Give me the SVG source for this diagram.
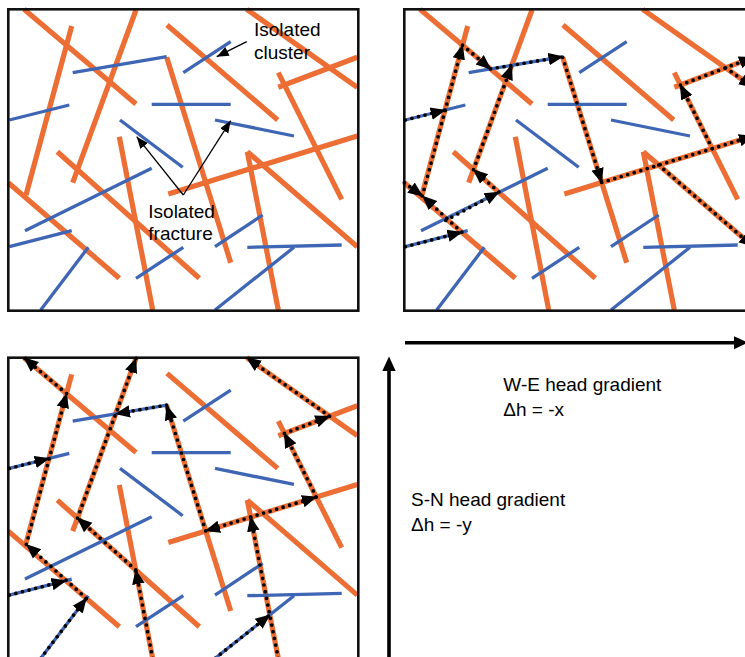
<svg xmlns="http://www.w3.org/2000/svg" xmlns:xlink="http://www.w3.org/1999/xlink" width="745" height="657" viewBox="0 0 745 657">
<style>
.o{stroke:#EC6E34;stroke-width:5.2;fill:none}
.b{stroke:#3F66B4;stroke-width:3.3;fill:none}
.frame{fill:none;stroke:#111;stroke-width:2.6}
.dot{stroke:#000;stroke-width:3.7;stroke-dasharray:0 6.8;stroke-linecap:round;fill:none;marker-end:url(#ah)}
.ann{stroke:#000;stroke-width:1.3;fill:none;marker-end:url(#ah2)}
.t{font-family:"Liberation Sans",Arial,sans-serif;font-size:19px;fill:#000}
</style>
<defs>
<marker id="ah" markerUnits="userSpaceOnUse" viewBox="0 0 10 10" markerWidth="15" markerHeight="15" refX="9.5" refY="5" orient="auto">
<path d="M0,0.8 L10,5 L0,9.2 z" fill="#000"/>
</marker>
<marker id="ah2" markerUnits="userSpaceOnUse" viewBox="0 0 10 10" markerWidth="12" markerHeight="12" refX="10" refY="5" orient="auto">
<path d="M0,1 L10,5 L0,9 z" fill="#000"/>
</marker>
<g id="fractures">
<line class="o" x1="24" y1="9.3" x2="136" y2="104"/>
<line class="o" x1="71.7" y1="26" x2="26" y2="195"/>
<line class="o" x1="136" y1="10" x2="72.7" y2="182.7"/>
<line class="o" x1="167" y1="25" x2="277.7" y2="120"/>
<line class="o" x1="246.7" y1="9.3" x2="357.3" y2="87.3"/>
<line class="o" x1="278.3" y1="87.3" x2="357.3" y2="57.3"/>
<line class="o" x1="278.3" y1="72.7" x2="341.7" y2="199.3"/>
<line class="o" x1="166.7" y1="57.3" x2="230.7" y2="262.7"/>
<line class="o" x1="119.3" y1="136.7" x2="152.7" y2="310"/>
<line class="o" x1="57.3" y1="151.7" x2="199.3" y2="278.3"/>
<line class="o" x1="8.3" y1="182.7" x2="119.3" y2="278.3"/>
<line class="o" x1="168.3" y1="194" x2="357.3" y2="136"/>
<line class="o" x1="247.3" y1="151.7" x2="278.3" y2="310"/>
<line class="o" x1="247.3" y1="151.7" x2="357.3" y2="246.7"/>
<line class="b" x1="72.7" y1="72.7" x2="166.7" y2="56.7"/>
<line class="b" x1="183.3" y1="72.7" x2="230.7" y2="41.7"/>
<line class="b" x1="9.3" y1="120" x2="69.3" y2="105"/>
<line class="b" x1="151.7" y1="104.3" x2="230.7" y2="104.3"/>
<line class="b" x1="120" y1="120" x2="182.7" y2="167.3"/>
<line class="b" x1="215" y1="120" x2="294" y2="136"/>
<line class="b" x1="25" y1="230.7" x2="151.7" y2="168.3"/>
<line class="b" x1="9.3" y1="246.7" x2="71.7" y2="230.7"/>
<line class="b" x1="40.7" y1="310" x2="88.3" y2="247.3"/>
<line class="b" x1="136" y1="278.3" x2="183.3" y2="247.3"/>
<line class="b" x1="215" y1="246.7" x2="262.7" y2="215"/>
<line class="b" x1="247.3" y1="247.3" x2="341.7" y2="245"/>
<line class="b" x1="215" y1="310" x2="294" y2="247.3"/>
</g>
</defs>
<rect width="745" height="657" fill="#fff"/>

<g id="panel-1">
<use xlink:href="#fractures" href="#fractures"/>
<rect class="frame" x="8.3" y="9.3" width="350" height="301.4"/>
</g>

<g id="panel-2" transform="translate(396,0)">
<use xlink:href="#fractures" href="#fractures"/>
<rect class="frame" x="8.3" y="9.3" width="350" height="301.4"/>
<g id="flow-we">
<path class="dot" d="M9.3,120 L49,110.1"/>
<path class="dot" d="M9.3,246.7 L65.8,232.2"/>
<path class="dot" d="M65.8,232.2 L26.5,196"/>
<path class="dot" d="M8.3,182.7 L26.5,196"/>
<path class="dot" d="M26.3,196 L66.5,45.2"/>
<path class="dot" d="M66.5,45.2 L94.6,68.9"/>
<path class="dot" d="M94.6,68.9 L166.7,56.7"/>
<path class="dot" d="M49.8,220.4 L102.9,192"/>
<path class="dot" d="M102.9,192 L77.5,169.7"/>
<path class="dot" d="M77.5,169.7 L115.7,65.4"/>
<path class="dot" d="M166.7,57.3 L205.7,182.5"/>
<path class="dot" d="M205.7,182.5 L357.3,136"/>
<path class="dot" d="M262.7,165 L357.3,246.7"/>
<path class="dot" d="M316.3,148.6 L284.4,85"/>
<path class="dot" d="M284.4,85 L357.3,57.3"/>
<path class="dot" d="M329.6,67.8 L357.3,87.3"/>
</g>
</g>

<g id="panel-3" transform="translate(0,348.4)">
<use xlink:href="#fractures" href="#fractures"/>
<rect class="frame" x="8.3" y="9.3" width="350" height="301.4"/>
<g id="flow-sn">
<path class="dot" d="M66.5,45.2 L24,9.3"/>
<path class="dot" d="M26.3,196 L66.5,45.2"/>
<path class="dot" d="M9.3,120 L49,110.1"/>
<path class="dot" d="M77.5,169.7 L136,10"/>
<path class="dot" d="M166.7,56.7 L115.7,65.4"/>
<path class="dot" d="M205.7,182.5 L166.7,57.3"/>
<path class="dot" d="M250.6,168.7 L205.7,182.5"/>
<path class="dot" d="M250.6,168.7 L316.3,148.6"/>
<path class="dot" d="M278.3,310 L250.6,168.7"/>
<path class="dot" d="M215,310 L269.8,266.5"/>
<path class="dot" d="M316.3,148.6 L284.4,85"/>
<path class="dot" d="M284.4,85 L329.6,67.8"/>
<path class="dot" d="M329.6,67.8 L246.7,9.3"/>
<path class="dot" d="M40.7,310 L86.3,249.9"/>
<path class="dot" d="M9.3,246.7 L65.8,232.2"/>
<path class="dot" d="M86.3,249.9 L26.5,196"/>
<path class="dot" d="M152.7,310 L135.7,221.5"/>
<path class="dot" d="M135.7,221.5 L77.5,169.7"/>
</g>
</g>

<g id="annotations">
<path class="ann" d="M246.7,41.7 L216.7,56.7"/>
<path class="ann" d="M183.3,195 L136.7,136.7"/>
<path class="ann" d="M183.3,195 L230.7,120.7"/>
<text class="t" x="254" y="36">Isolated</text>
<text class="t" x="254" y="58.5">cluster</text>
<text class="t" x="148.3" y="218">Isolated</text>
<text class="t" x="148.3" y="239.5">fracture</text>
</g>

<g id="gradient-we">
<line x1="405" y1="342.7" x2="736" y2="342.7" stroke="#000" stroke-width="3.6"/>
<polygon points="734,336.2 748,342.7 734,349.2" fill="#000"/>
<text class="t" x="503.3" y="390.5">W-E head gradient</text>
<text class="t" x="503.3" y="415.5">Δh = -x</text>
</g>

<g id="gradient-sn">
<line x1="389" y1="657" x2="389" y2="368" stroke="#000" stroke-width="3.6"/>
<polygon points="382.3,371 389,356.5 395.7,371" fill="#000"/>
<text class="t" x="411" y="506">S-N head gradient</text>
<text class="t" x="411" y="531">Δh = -y</text>
</g>
</svg>
